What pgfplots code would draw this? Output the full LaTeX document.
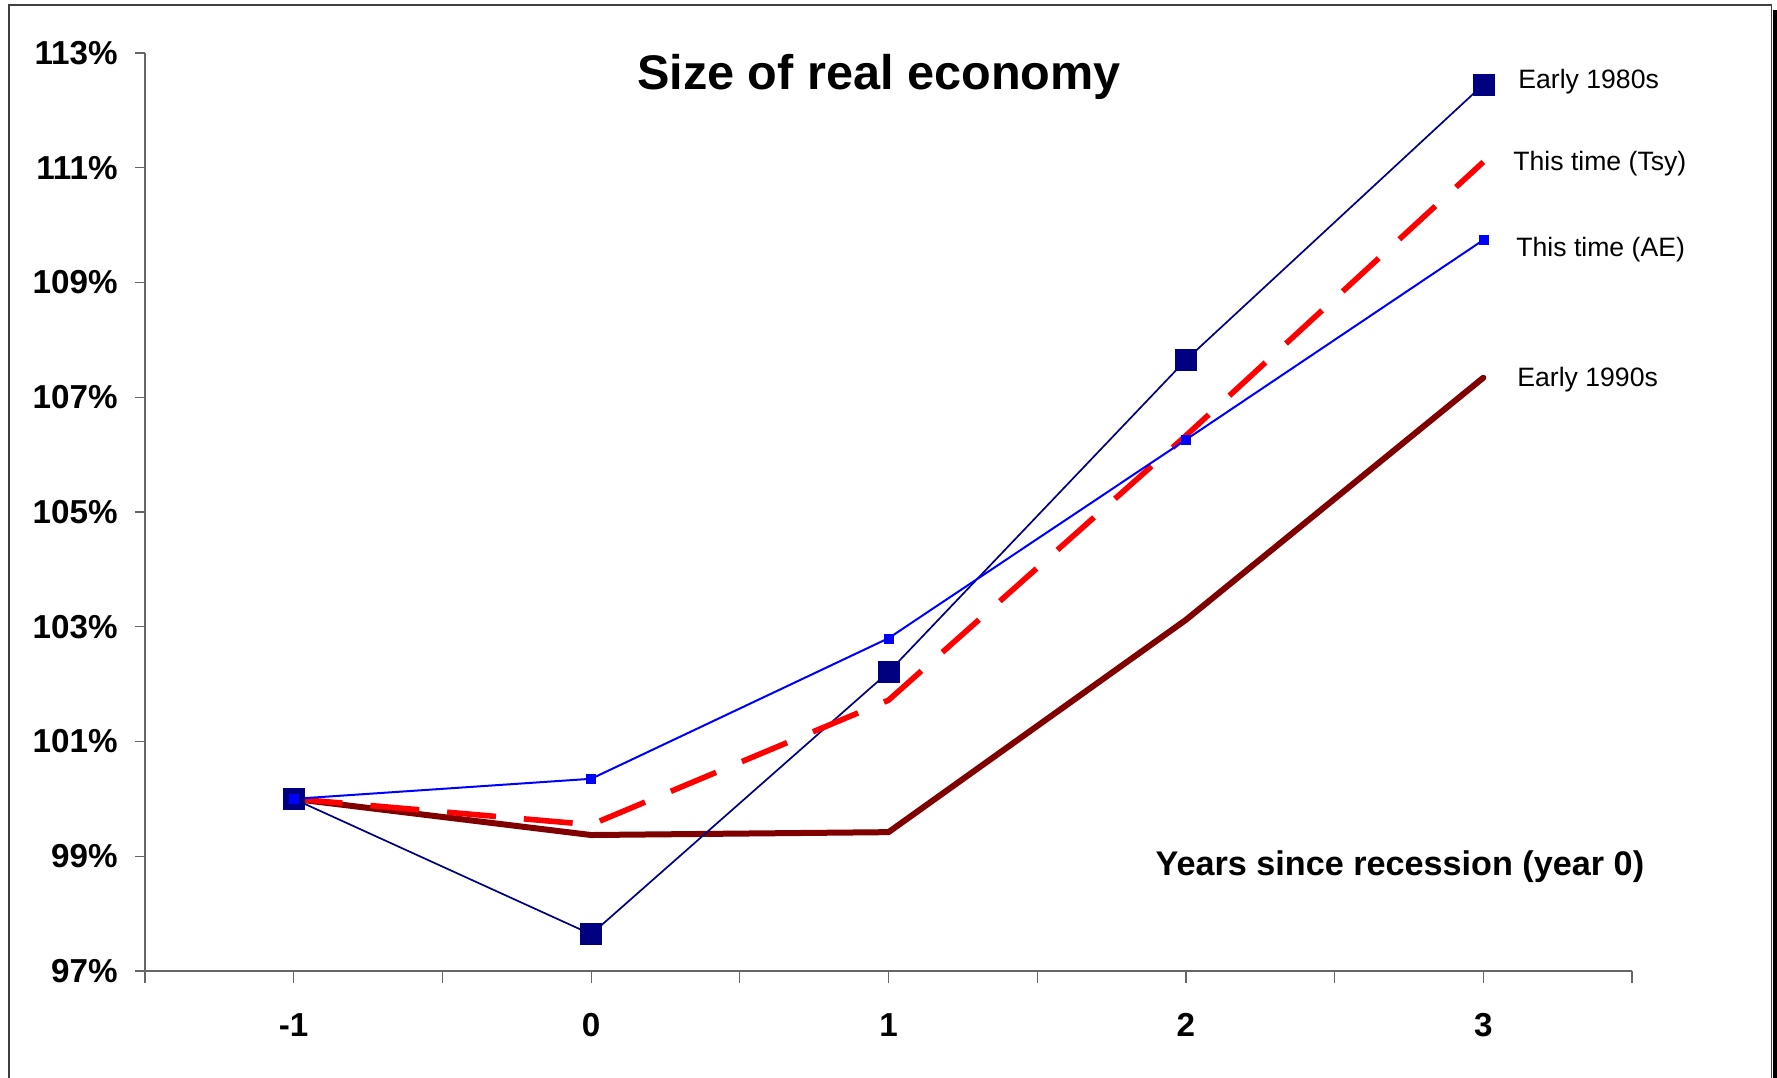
\documentclass[border=0pt]{standalone}
\usepackage{pgfplots}
\pgfplotsset{compat=1.18}
\usepackage{fontspec}
\setmainfont{Liberation Sans}

\definecolor{navyline}{RGB}{0,0,128}
\definecolor{aeblue}{RGB}{0,0,255}
\definecolor{tsyred}{RGB}{255,0,0}
\definecolor{maroonline}{RGB}{128,0,0}

\begin{document}
\begin{tikzpicture}
% page = 1777 x 1077 px at 0.5pt per px
\path[use as bounding box] (0,0) rectangle (888.5pt,538.5pt);
% chart frame with shadow on the right
\fill[black] (886.5pt,-5pt) rectangle (890pt,533.5pt);
\draw[black!75, line width=0.75pt] (4.5pt,-5pt) -- (4.5pt,536pt) -- (885.75pt,536pt) -- (885.75pt,-5pt);

\begin{axis}[
  at={(72.5pt,53pt)}, anchor=south west,
  scale only axis, width=743.5pt, height=459pt,
  xmin=-1.5, xmax=3.5, ymin=97, ymax=113,
  axis lines*=left,
  axis line style={black!60, line width=0.6pt},
  tick align=outside,
  tick style={black!60, line width=0.6pt},
  major tick length=5pt,
  /pgf/number format/assume math mode=true,
  ytick={97,99,...,113},
  yticklabel={\pgfmathprintnumber{\tick}\%},
  yticklabel style={font=\fontsize{16.6}{20}\selectfont\bfseries, inner sep=0pt, xshift=-8.5pt},
  xtick={-1.5,-0.5,...,3.5},
  xticklabels={},
  x tick style={/pgfplots/major tick length=6pt},
  extra x ticks={-1,0,1,2,3},
  extra x tick labels={-1,0,1,2,3},
  extra x tick style={major tick length=0pt,
    xticklabel style={font=\fontsize{16.6}{20}\selectfont\bfseries, inner sep=0pt, anchor=north, yshift=-21pt}},
  clip=false,
]
% Early 1990s
\addplot[maroonline, line width=3pt, line cap=round, line join=round, mark=none]
  coordinates {(-1,100) (0,99.37) (1,99.42) (2,103.12) (3,107.34)};
% Early 1980s
\addplot[navyline, line width=0.85pt, mark=square*, mark size=5.25pt,
  mark options={fill=navyline, draw=navyline, line width=0.3pt}]
  coordinates {(-1,100) (0,97.64) (1,102.21) (2,107.65) (3,112.45)};
% This time (Tsy)
\addplot[tsyred, line width=2.8pt, dash pattern=on 24.5pt off 14pt, mark=none]
  coordinates {(-1,100) (0,99.55) (1,101.72) (2,106.33) (3,111.10)};
% This time (AE)
\addplot[aeblue, line width=1pt, mark=square*, mark size=2.25pt,
  mark options={fill=aeblue, draw=aeblue, line width=0.2pt}]
  coordinates {(-1,100) (0,100.35) (1,102.80) (2,106.26) (3,109.74)};
\end{axis}

% title, axis label and series labels
\node[anchor=base, font=\fontsize{24.3}{29}\selectfont\bfseries] at (439.5pt,493.5pt) {Size of real economy};
\node[anchor=base east, inner sep=0pt, font=\fontsize{17.1}{20}\selectfont\bfseries] at (822.3pt,101pt) {Years since recession (year 0)};
\begin{scope}[every node/.style={anchor=base west, inner sep=0pt, font=\fontsize{13.3}{16}\selectfont}]
\node at (759pt,494.3pt) {Early 1980s};
\node at (756.5pt,453.2pt) {This time (Tsy)};
\node at (758pt,410.2pt) {This time (AE)};
\node at (758.5pt,345.2pt) {Early 1990s};
\end{scope}
\end{tikzpicture}
\end{document}
